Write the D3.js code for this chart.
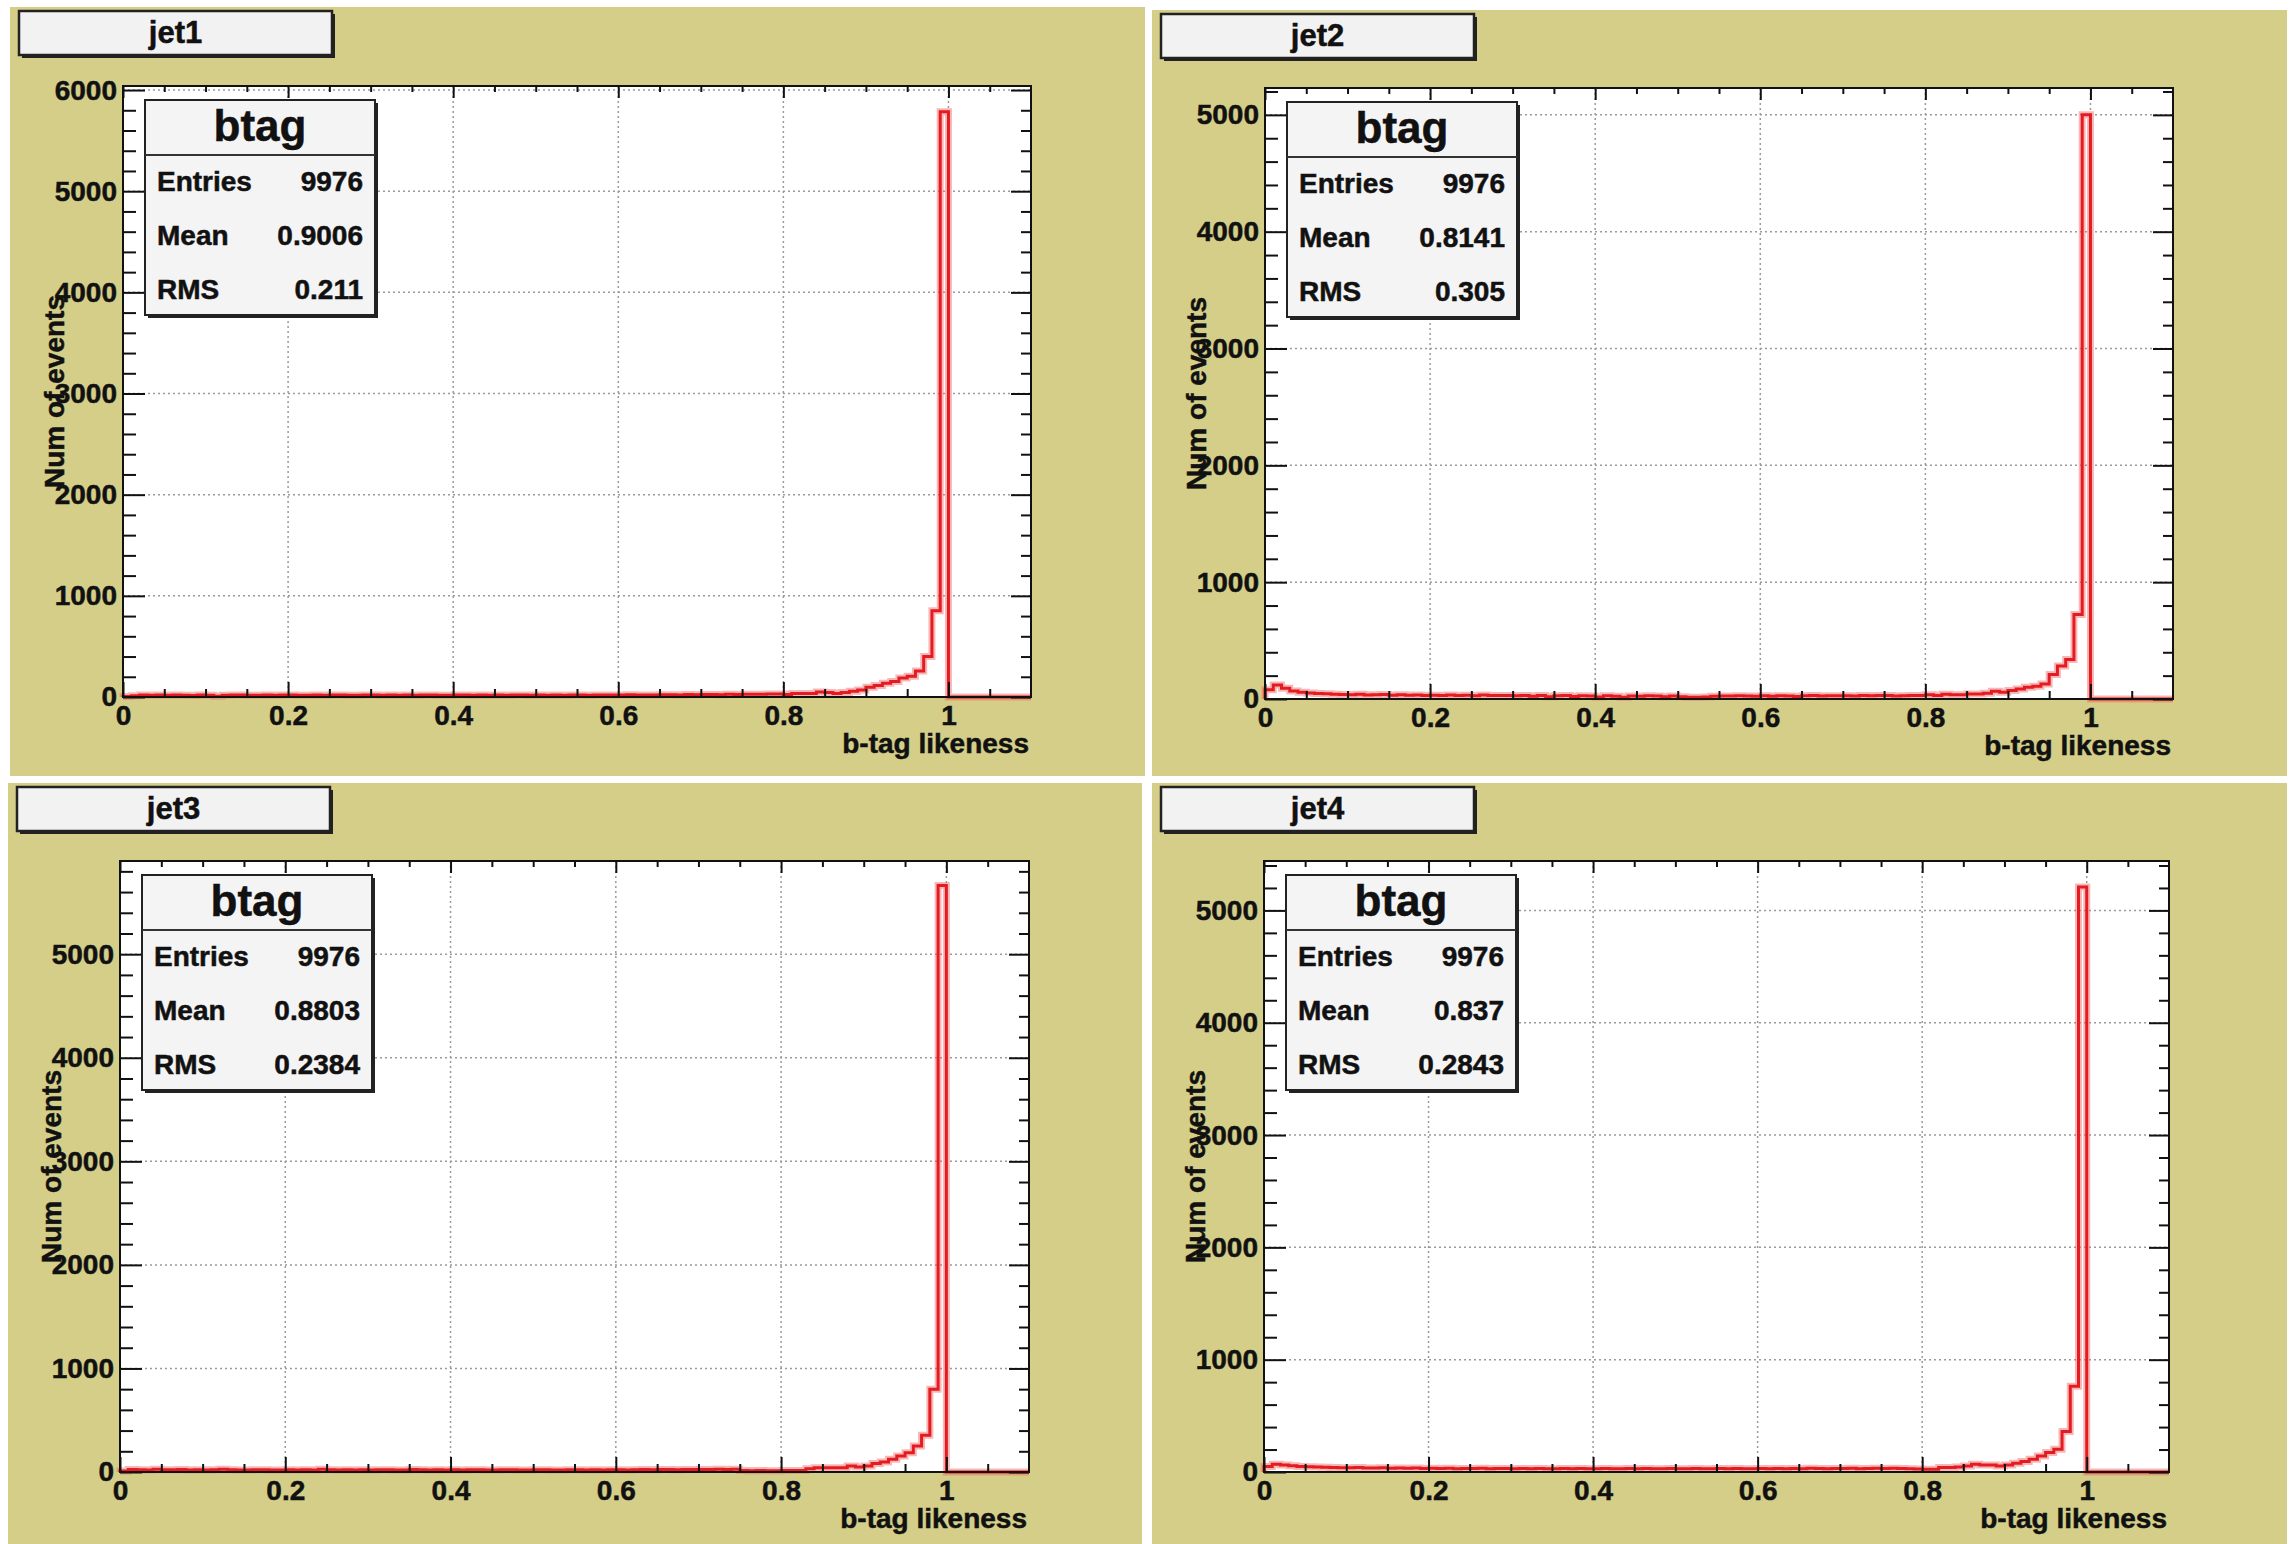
<!DOCTYPE html>
<html>
<head>
<meta charset="utf-8">
<script src="https://cdn.jsdelivr.net/npm/d3@7"></script>
<style>
  body { margin: 0; background: #ffffff; }
  text { font-family: "Liberation Sans", Arial, Helvetica, sans-serif; font-weight: bold; fill: #111; stroke: #111; stroke-width: 0.5px; }
</style>
</head>
<body>
<svg id="chart" width="2292" height="1544"></svg>
<script>
// ---- data ----
var jetNames = ["jet1", "jet2", "jet3", "jet4"];
var statEntries = ["9976", "9976", "9976", "9976"];
var statMeans = ["0.9006", "0.8141", "0.8803", "0.837"];
var statRms = ["0.211", "0.305", "0.2384", "0.2843"];
var yMax = [6040, 5230, 5900, 5440];
var xTicks = [0, 0.2, 0.4, 0.6, 0.8, 1];
var xMinorTicks = [0.05, 0.1, 0.15, 0.25, 0.3, 0.35, 0.45, 0.5, 0.55, 0.65, 0.7, 0.75, 0.85, 0.9, 0.95, 1.05];
var yTicksBig = [0, 1000, 2000, 3000, 4000, 5000, 6000];
var yTicksSmall = [0, 1000, 2000, 3000, 4000, 5000];
var binWidth = 0.01; // 110 bins on [0, 1.1]

var jet1Counts = [
  4, 12, 20, 18, 19, 17, 20, 18, 16, 19,
  17, 7, 18, 20, 19, 18, 17, 20, 18, 19,
  20, 18, 17, 19, 18, 20, 19, 17, 18, 20,
  19, 18, 20, 17, 19, 18, 20, 19, 18, 17,
  19, 20, 18, 19, 17, 20, 18, 19, 20, 18,
  19, 17, 20, 18, 19, 20, 18, 19, 21, 20,
  20, 22, 19, 21, 20, 23, 22, 21, 24, 23,
  24, 25, 23, 26, 25, 27, 28, 27, 30, 29,
  24, 34, 34, 34, 50, 45, 34, 44, 58, 68,
  96, 113, 137, 154, 188, 205, 256, 400, 853, 5786,
  0, 0, 0, 0, 0, 0, 0, 0, 0, 0
];
var jet2Counts = [
  80, 120, 92, 68, 58, 52, 48, 44, 40, 38,
  36, 40, 34, 36, 38, 33, 36, 32, 35, 31,
  33, 29, 34, 30, 32, 28, 34, 29, 31, 30,
  27, 31, 24, 29, 20, 27, 30, 22, 28, 25,
  18, 28, 24, 16, 26, 23, 27, 25, 20, 26,
  19, 14, 16, 18, 24, 26, 25, 28, 26, 23,
  27, 24, 28, 26, 22, 27, 29, 25, 28, 27,
  28, 25, 30, 27, 29, 31, 26, 28, 30, 29,
  37, 29, 40, 37, 37, 43, 43, 49, 66, 57,
  72, 86, 100, 109, 129, 210, 282, 339, 724, 5000,
  0, 0, 0, 0, 0, 0, 0, 0, 0, 0
];
var jet3Counts = [
  10, 24, 22, 20, 26, 22, 21, 23, 20, 22,
  20, 21, 26, 22, 20, 19, 22, 21, 20, 19,
  21, 20, 22, 19, 27, 21, 20, 22, 19, 21,
  20, 22, 21, 19, 20, 23, 21, 20, 22, 19,
  21, 20, 22, 21, 19, 20, 22, 21, 20, 19,
  21, 22, 20, 19, 21, 22, 20, 21, 19, 22,
  21, 20, 22, 24, 21, 23, 25, 22, 24, 23,
  25, 24, 26, 25, 27, 14, 12, 15, 13, 12,
  15, 15, 14, 32, 40, 42, 42, 42, 58, 48,
  58, 81, 97, 123, 155, 187, 252, 355, 800, 5664,
  0, 0, 0, 0, 0, 0, 0, 0, 0, 0
];
var jet4Counts = [
  50, 68, 62, 55, 50, 47, 45, 42, 40, 38,
  37, 39, 35, 36, 38, 34, 36, 33, 35, 32,
  34, 31, 33, 30, 32, 31, 34, 30, 32, 31,
  30, 32, 29, 31, 28, 30, 32, 29, 31, 30,
  29, 31, 28, 30, 32, 29, 31, 30, 28, 31,
  30, 29, 31, 28, 30, 32, 29, 31, 30, 29,
  31, 30, 32, 29, 31, 30, 33, 31, 30, 32,
  31, 33, 30, 32, 34, 31, 33, 32, 28, 26,
  24, 24, 39, 39, 45, 54, 69, 63, 63, 54,
  63, 78, 93, 113, 143, 173, 203, 361, 764, 5208,
  0, 0, 0, 0, 0, 0, 0, 0, 0, 0
];
var allCounts = [jet1Counts, jet2Counts, jet3Counts, jet4Counts];
var allYTicks = [yTicksBig, yTicksSmall, yTicksSmall, yTicksSmall];

// ---- layout (pads and frames, in px) ----
var pads = [
  {x: 10, y: 7, w: 1135, h: 769, fl: 123, fr: 1031, ft: 86, fb: 697},
  {x: 1152, y: 10, w: 1135, h: 766, fl: 1265, fr: 2173, ft: 88, fb: 699},
  {x: 8, y: 783, w: 1134, h: 761, fl: 120, fr: 1029, ft: 861, fb: 1472},
  {x: 1152, y: 783, w: 1135, h: 761, fl: 1264, fr: 2169, ft: 861, fb: 1472}
];

var svg = d3.select("#chart");

function minorFor(ticks) {
  var out = [];
  ticks.forEach(function (t) {
    [200, 400, 600, 800].forEach(function (s) { out.push(t + s); });
  });
  return out;
}

pads.forEach(function (p, k) {
  var g = svg.append("g");
  var counts = allCounts[k];

  g.append("rect").attr("x", p.x).attr("y", p.y).attr("width", p.w).attr("height", p.h)
    .attr("fill", "#d4ce88");

  var x = d3.scaleLinear().domain([0, 1.1]).range([p.fl, p.fr]);
  var y = d3.scaleLinear().domain([0, yMax[k]]).range([p.fb, p.ft]);

  g.append("rect").attr("x", p.fl).attr("y", p.ft)
    .attr("width", p.fr - p.fl).attr("height", p.fb - p.ft).attr("fill", "#ffffff");

  // grid
  g.selectAll(".gx").data(xTicks.slice(1)).enter().append("line")
    .attr("x1", function (d) { return x(d); }).attr("x2", function (d) { return x(d); })
    .attr("y1", p.ft).attr("y2", p.fb)
    .attr("stroke", "#9a9a9a").attr("stroke-width", 1.5).attr("stroke-dasharray", "2,3");
  g.selectAll(".gy").data(allYTicks[k].slice(1)).enter().append("line")
    .attr("y1", function (d) { return y(d); }).attr("y2", function (d) { return y(d); })
    .attr("x1", p.fl).attr("x2", p.fr)
    .attr("stroke", "#9a9a9a").attr("stroke-width", 1.5).attr("stroke-dasharray", "2,3");

  // histogram outline
  var pts = [[0, 0]];
  counts.forEach(function (c, i) { pts.push([i * binWidth, c]); });
  pts.push([counts.length * binWidth, counts[counts.length - 1]]);
  var line = d3.line()
    .x(function (d) { return x(d[0]); })
    .y(function (d) { return y(d[1]); })
    .curve(d3.curveStepAfter);
  g.append("path").datum(pts).attr("d", line).attr("fill", "none")
    .attr("stroke", "#f06060").attr("stroke-opacity", 0.45).attr("stroke-width", 7);
  g.append("path").datum(pts).attr("d", line).attr("fill", "none")
    .attr("stroke", "#e41c22").attr("stroke-width", 3);

  // axes
  function styleAxis(sel) {
    sel.select(".domain").remove();
    sel.selectAll(".tick line").attr("stroke", "#111").attr("stroke-width", 2);
    sel.selectAll("text").attr("font-size", 28).attr("fill", "#111");
  }
  g.append("g").attr("transform", "translate(0," + p.fb + ")")
    .call(d3.axisBottom(x).tickValues(xTicks).tickSize(-15).tickPadding(8)
      .tickFormat(function (d) { return d3.format("")(+d.toFixed(1)); }))
    .call(styleAxis);
  g.append("g").attr("transform", "translate(0," + p.fb + ")")
    .call(d3.axisBottom(x).tickValues(xMinorTicks).tickSize(-8).tickFormat(""))
    .call(styleAxis);
  g.append("g").attr("transform", "translate(0," + p.ft + ")")
    .call(d3.axisTop(x).tickValues(xTicks).tickSize(-12).tickFormat(""))
    .call(styleAxis);
  g.append("g").attr("transform", "translate(0," + p.ft + ")")
    .call(d3.axisTop(x).tickValues(xMinorTicks).tickSize(-6).tickFormat(""))
    .call(styleAxis);

  var yMinor = minorFor(allYTicks[k]).filter(function (v) { return v < yMax[k]; });
  g.append("g").attr("transform", "translate(" + p.fl + ",0)")
    .call(d3.axisLeft(y).tickValues(allYTicks[k]).tickSize(-22).tickPadding(6).tickFormat(d3.format("d")))
    .call(styleAxis);
  g.append("g").attr("transform", "translate(" + p.fl + ",0)")
    .call(d3.axisLeft(y).tickValues(yMinor).tickSize(-13).tickFormat(""))
    .call(styleAxis);
  g.append("g").attr("transform", "translate(" + p.fr + ",0)")
    .call(d3.axisRight(y).tickValues(allYTicks[k]).tickSize(-20).tickFormat(""))
    .call(styleAxis);
  g.append("g").attr("transform", "translate(" + p.fr + ",0)")
    .call(d3.axisRight(y).tickValues(yMinor).tickSize(-10).tickFormat(""))
    .call(styleAxis);

  g.append("rect").attr("x", p.fl).attr("y", p.ft)
    .attr("width", p.fr - p.fl).attr("height", p.fb - p.ft)
    .attr("fill", "none").attr("stroke", "#111").attr("stroke-width", 2);

  // axis titles
  g.append("text").attr("x", p.fr - 2).attr("y", p.fb + 56)
    .attr("text-anchor", "end").attr("font-size", 28).text("b-tag likeness");
  g.append("text")
    .attr("transform", "translate(" + (p.fl - 69) + "," + ((p.ft + p.fb) / 2) + ") rotate(-90)")
    .attr("text-anchor", "middle").attr("dy", "0.36em").attr("font-size", 28).text("Num of events");

  // stats box
  var sx = p.fl + 22, sy = p.ft + 14, sw = 230, sh = 215;
  g.append("rect").attr("x", sx + 3).attr("y", sy + 3).attr("width", sw).attr("height", sh).attr("fill", "#222");
  g.append("rect").attr("x", sx).attr("y", sy).attr("width", sw).attr("height", sh)
    .attr("fill", "#f4f4f4").attr("stroke", "#222").attr("stroke-width", 2);
  g.append("line").attr("x1", sx).attr("x2", sx + sw).attr("y1", sy + 55).attr("y2", sy + 55)
    .attr("stroke", "#333").attr("stroke-width", 2);
  g.append("text").attr("x", sx + sw / 2).attr("y", sy + 41).attr("text-anchor", "middle")
    .attr("font-size", 44).text("btag");
  var rows = [["Entries", statEntries[k]], ["Mean", statMeans[k]], ["RMS", statRms[k]]];
  rows.forEach(function (r, i) {
    g.append("text").attr("x", sx + 12).attr("y", sy + 91 + i * 54).attr("font-size", 28).text(r[0]);
    g.append("text").attr("x", sx + sw - 12).attr("y", sy + 91 + i * 54).attr("text-anchor", "end")
      .attr("font-size", 28).text(r[1]);
  });

  // title box
  var tx = p.x + 9, ty = p.y + 4, tw = 313, th = 44;
  g.append("rect").attr("x", tx + 3).attr("y", ty + 3).attr("width", tw).attr("height", th).attr("fill", "#222");
  g.append("rect").attr("x", tx).attr("y", ty).attr("width", tw).attr("height", th)
    .attr("fill", "#f2f2f2").attr("stroke", "#222").attr("stroke-width", 2.5);
  g.append("text").attr("x", tx + tw / 2).attr("y", ty + 32).attr("text-anchor", "middle")
    .attr("font-size", 31).text(jetNames[k]);
});
</script>
</body>
</html>
